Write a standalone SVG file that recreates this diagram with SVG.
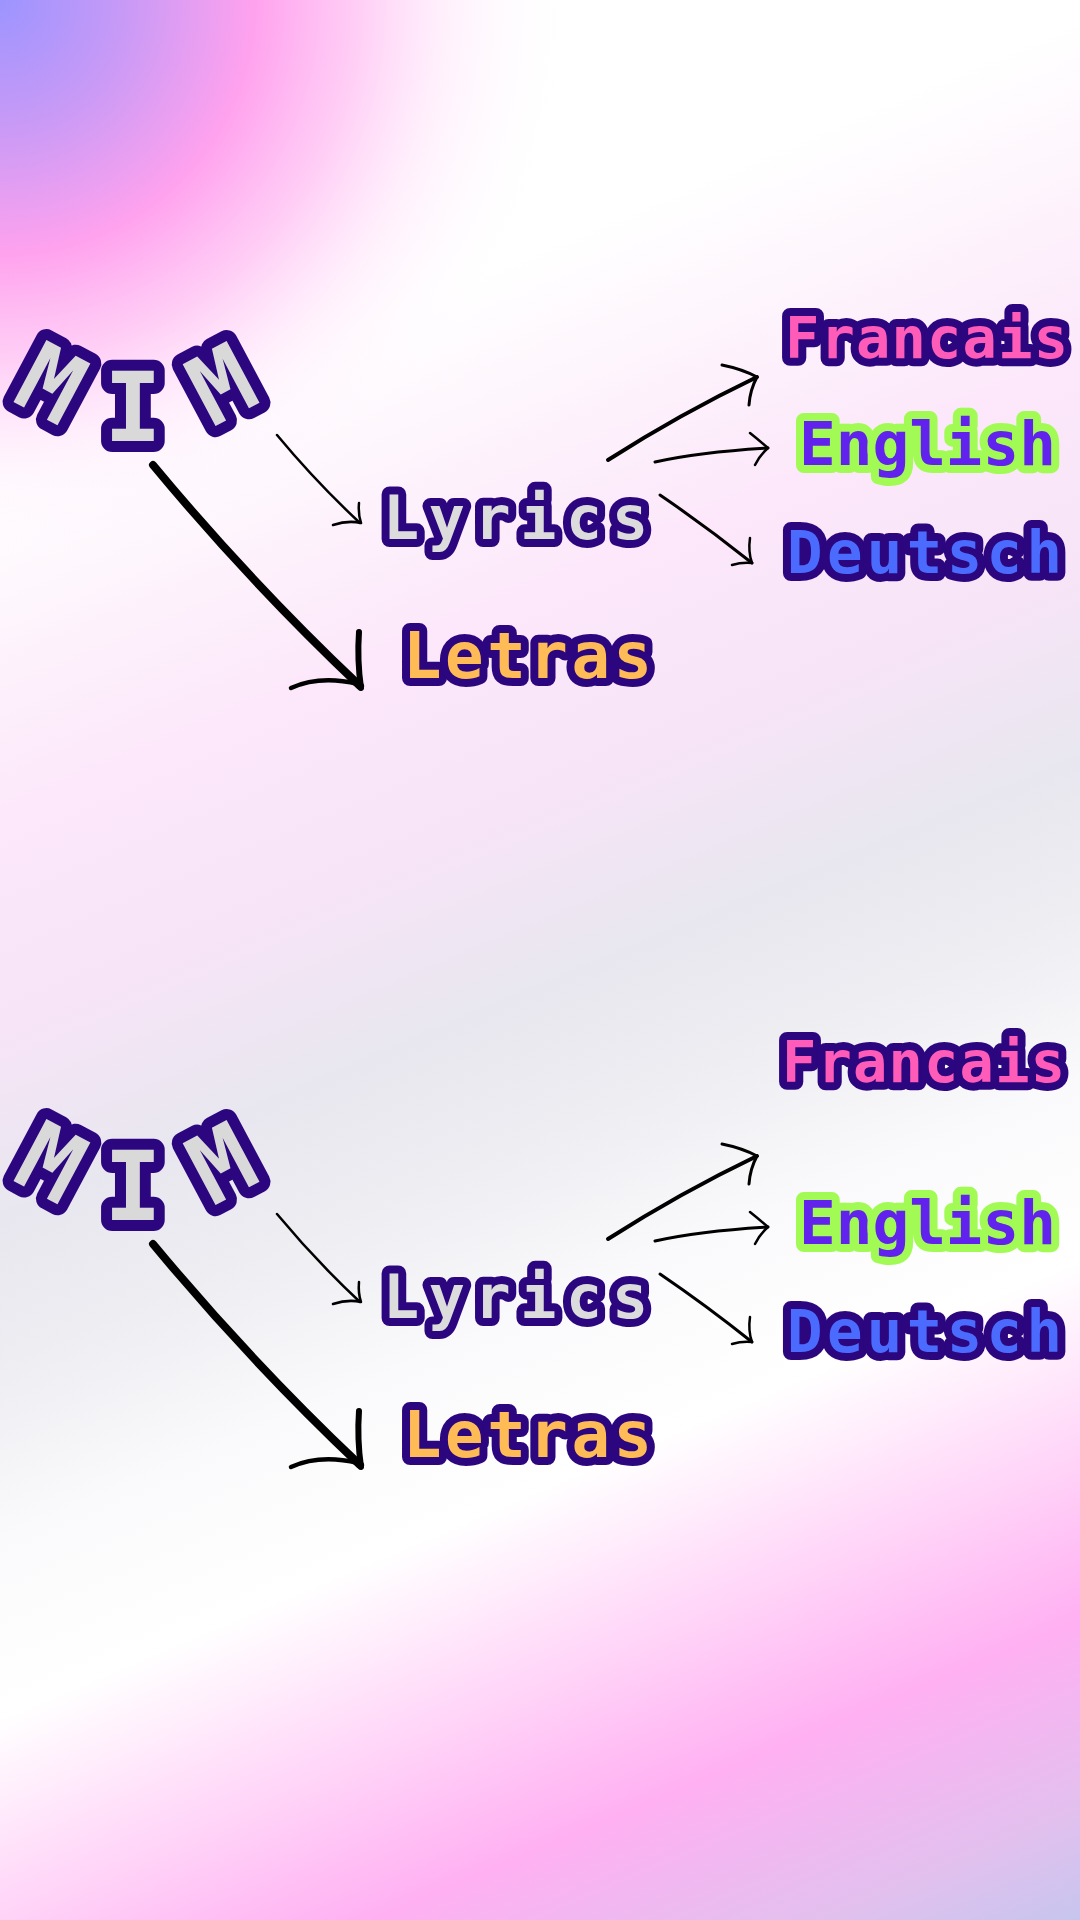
<svg xmlns="http://www.w3.org/2000/svg" width="1080" height="1920" viewBox="0 0 1080 1920">
  <defs>
    <linearGradient id="bg" gradientUnits="userSpaceOnUse" x1="0" y1="0" x2="858" y2="2024">
      <stop offset="0" stop-color="#ffffff"/>
      <stop offset="0.2" stop-color="#ffffff"/>
      <stop offset="0.34" stop-color="#fce8fa"/>
      <stop offset="0.43" stop-color="#f7e4f7"/>
      <stop offset="0.51" stop-color="#e8e7ef"/>
      <stop offset="0.57" stop-color="#ededf2"/>
      <stop offset="0.645" stop-color="#fafafc"/>
      <stop offset="0.72" stop-color="#ffffff"/>
      <stop offset="0.87" stop-color="#ffb0f2"/>
      <stop offset="0.95" stop-color="#e2c0ee"/>
      <stop offset="1" stop-color="#c4c6ee"/>
    </linearGradient>
    <radialGradient id="tl" gradientUnits="userSpaceOnUse" cx="0" cy="0" r="580">
      <stop offset="0" stop-color="#9c94ff" stop-opacity="1"/>
      <stop offset="0.22" stop-color="#c99af6" stop-opacity="1"/>
      <stop offset="0.44" stop-color="#ffa2ee" stop-opacity="1"/>
      <stop offset="0.62" stop-color="#ffc6f4" stop-opacity="0.85"/>
      <stop offset="0.8" stop-color="#ffe8fb" stop-opacity="0.45"/>
      <stop offset="1" stop-color="#ffffff" stop-opacity="0"/>
    </radialGradient>
    <style>
      .t { font-family: "DejaVu Sans Mono", "Liberation Mono", monospace; font-weight: bold; paint-order: stroke; stroke-linejoin: round; stroke-linecap: round; }
      .o { stroke: #2b067f; stroke-width: 16; }
      .mim { fill: #d9d9d9; stroke: #2b067f; stroke-width: 22; font-size: 96px; }
      .lyr { fill: #dcdcdc; font-size: 60px; }
      .let { fill: #ffbb55; font-size: 64px; }
      .fr { fill: #ff5cb9; font-size: 57px; }
      .en { fill: #6122ee; stroke: #a2fb55; stroke-width: 16; font-size: 61px; }
      .de { fill: #4b6bff; font-size: 59px; }
      .a { fill: none; stroke: #000; stroke-linecap: round; stroke-linejoin: round; }
    </style>
  </defs>

  <rect width="1080" height="1920" fill="url(#bg)"/>
  <rect width="1080" height="1920" fill="url(#tl)"/>

  <g id="connectors">
    <g id="top-arrows">
      <path class="a" stroke-width="2.5" d="M277,435 Q316,482 360,523"/>
      <path class="a" stroke-width="2.5" d="M333,525 Q348,520 361,523 M359,503 Q358,514 361,523"/>
      <path class="a" stroke-width="8" d="M153,465 Q250,582 360,686"/>
      <path class="a" stroke-width="6" d="M359,632 Q357,660 361,688"/>
      <path class="a" stroke-width="4.5" d="M291,688 Q320,675 358,684"/>
      <path class="a" stroke-width="4" d="M608,460 Q680,414 757,377"/>
      <path class="a" stroke-width="3" d="M722,365 Q742,369 757,377 M749,405 Q750,390 757,377"/>
      <path class="a" stroke-width="3" d="M655,462 Q700,452 768,448"/>
      <path class="a" stroke-width="2.5" d="M750,433 Q760,441 768,448 M755,465 Q760,455 768,448"/>
      <path class="a" stroke-width="3" d="M660,495 Q707,527 752,563"/>
      <path class="a" stroke-width="2.5" d="M750,538 Q748,552 752,563 M732,565 Q742,562 752,563"/>
    </g>
    <g id="bottom-arrows" transform="translate(0,779)">
      <path class="a" stroke-width="2.5" d="M277,435 Q316,482 360,523"/>
      <path class="a" stroke-width="2.5" d="M333,525 Q348,520 361,523 M359,503 Q358,514 361,523"/>
      <path class="a" stroke-width="8" d="M153,465 Q250,582 360,686"/>
      <path class="a" stroke-width="6" d="M359,632 Q357,660 361,688"/>
      <path class="a" stroke-width="4.5" d="M291,688 Q320,675 358,684"/>
      <path class="a" stroke-width="4" d="M608,460 Q680,414 757,377"/>
      <path class="a" stroke-width="3" d="M722,365 Q742,369 757,377 M749,405 Q750,390 757,377"/>
      <path class="a" stroke-width="3" d="M655,462 Q700,452 768,448"/>
      <path class="a" stroke-width="2.5" d="M750,433 Q760,441 768,448 M755,465 Q760,455 768,448"/>
      <path class="a" stroke-width="3" d="M660,495 Q707,527 752,563"/>
      <path class="a" stroke-width="2.5" d="M750,538 Q748,552 752,563 M732,565 Q742,562 752,563"/>
    </g>
  </g>

  <g id="mim-top"><text class="t mim" x="10 104 212" y="400 441 428" rotate="28 0 -28">MIM</text></g>
  <g id="lyrics-top"><text class="t o lyr" x="383" y="539" textLength="265" lengthAdjust="spacing">Lyrics</text></g>
  <g id="letras-top"><text class="t o let" x="403" y="678" textLength="249" lengthAdjust="spacing">Letras</text></g>
  <g id="francais-top"><text class="t o fr" x="785" y="358" textLength="283" lengthAdjust="spacing">Francais</text></g>
  <g id="english-top"><text class="t en" x="799" y="465" textLength="257" lengthAdjust="spacing">English</text></g>
  <g id="deutsch-top"><text class="t o de" x="787" y="573" textLength="275" lengthAdjust="spacing">Deutsch</text></g>

  <g id="mim-bottom" transform="translate(0,779)"><text class="t mim" x="10 104 212" y="400 441 428" rotate="28 0 -28">MIM</text></g>
  <g id="lyrics-bottom" transform="translate(0,779)"><text class="t o lyr" x="383" y="539" textLength="265" lengthAdjust="spacing">Lyrics</text></g>
  <g id="letras-bottom" transform="translate(0,779)"><text class="t o let" x="403" y="678" textLength="249" lengthAdjust="spacing">Letras</text></g>
  <g id="francais-bottom"><text class="t o fr" x="782" y="1082" textLength="283" lengthAdjust="spacing">Francais</text></g>
  <g id="english-bottom" transform="translate(0,779)"><text class="t en" x="799" y="465" textLength="257" lengthAdjust="spacing">English</text></g>
  <g id="deutsch-bottom" transform="translate(0,779)"><text class="t o de" x="787" y="573" textLength="275" lengthAdjust="spacing">Deutsch</text></g>
</svg>
